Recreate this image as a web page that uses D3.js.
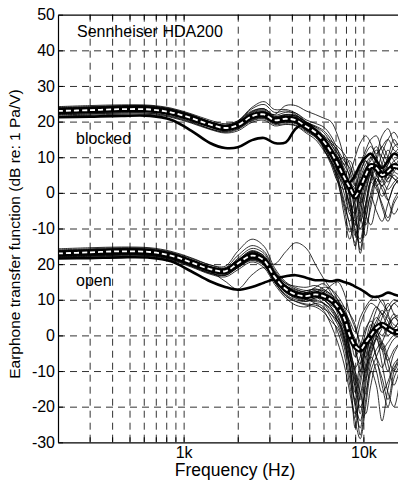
<!DOCTYPE html>
<html>
<head>
<meta charset="utf-8">
<script src="https://cdn.jsdelivr.net/npm/d3@7/dist/d3.min.js"></script>
<style>
  body { margin: 0; background: #fff; }
  svg { display: block; font-family: "Liberation Sans", Arial, sans-serif; }
</style>
</head>
<body>
<div id="chart"></div>
<script>
// frequency points shared by all curves (Hz)
const freqs = [200, 300, 450, 650, 850, 1100, 1400, 1700, 2000, 2400, 2800, 3200, 3700, 4200, 4800,
  5400, 6000, 6600, 7200, 7800, 8400, 9000, 9600, 10300, 11000, 11800, 12700, 13700, 14800, 16000];

// stacked y axis: blocked panel sits 40 dB above the open panel
const yTicks = [-30, -20, -10, 0, 10, 20, 30, 40, 50, 60, 70, 80, 90];
const yTickLabels = ['-30', '-20', '-10', '0', '10', '20', '-10', '0', '10', '20', '30', '40', '50'];
const blockedOffset = 40;

const xGridFreqs = [300, 400, 500, 600, 700, 800, 900, 1000, 2000, 3000, 4000, 5000, 6000, 7000, 8000, 9000, 10000];
const xLabelFreqs = [1000, 10000];
const xLabelText = ['1k', '10k'];

const blockedMean = [23.0, 23.2, 23.5, 23.4, 22.6, 21.0, 19.2, 18.2, 19.0, 21.5, 22.0, 20.4, 20.8, 20.4, 18.6,
  17.0, 14.5, 11.5, 8.0, 4.5, 1.5, -1.0, 1.5, 5.0, 7.5, 7.0, 5.0, 6.0, 7.5, 7.0];
const blockedRef = [21.2, 21.4, 21.6, 21.6, 20.5, 17.5, 14.0, 12.6, 12.8, 14.8, 15.4, 14.0, 14.2, 18.0, 19.5,
  17.5, 14.0, 11.0, 7.0, 4.0, 3.0, 5.0, 8.0, 10.0, 11.0, 9.0, 7.0, 9.0, 11.0, 10.0];
const blockedEars = [
  [23.9, 24.1, 24.4, 24.4, 23.5, 21.9, 20.0, 19.0, 19.8, 22.6, 23.3, 21.4, 22.0, 21.8, 19.8, 18.0, 15.5, 12.0, 5.0, -3.0, -8.0, 0.0, 7.0, 11.0, 13.0, 10.0, 6.0, 8.0, 11.0, 9.0],
  [22.0, 22.2, 22.5, 22.4, 21.6, 20.0, 18.0, 17.2, 18.0, 20.4, 21.0, 19.5, 19.8, 19.4, 17.5, 16.0, 14.0, 12.0, 9.5, 6.0, -2.0, -12.0, -6.0, 2.0, 6.0, 3.0, -1.0, 2.0, 5.0, 3.0],
  [23.5, 23.7, 24.0, 24.0, 23.2, 21.6, 19.8, 18.8, 20.0, 23.6, 24.8, 22.6, 23.0, 22.0, 19.5, 17.5, 12.5, 8.0, 3.0, 1.0, 5.0, 10.0, 14.0, 16.0, 14.0, 11.0, 13.0, 15.0, 12.0, 11.0],
  [22.6, 22.8, 23.1, 23.0, 22.1, 20.4, 18.6, 17.6, 18.4, 21.0, 21.6, 19.8, 20.5, 20.8, 19.5, 18.5, 17.0, 14.0, 10.0, 7.0, 2.0, -6.0, -16.0, -4.0, 4.0, 9.0, 7.0, 3.0, 6.0, 8.0],
  [24.2, 24.5, 24.7, 24.6, 23.8, 22.2, 20.4, 19.4, 20.2, 23.0, 23.6, 21.8, 22.6, 22.4, 20.5, 19.5, 18.5, 16.0, 12.0, 6.0, -1.0, -9.0, -2.0, 6.0, 10.0, 13.0, 8.0, 4.0, 7.0, 10.0],
  [21.6, 21.8, 22.1, 22.0, 21.2, 19.6, 17.8, 16.8, 17.4, 19.8, 20.4, 18.8, 19.2, 18.8, 16.8, 15.0, 12.0, 9.0, 6.0, 2.0, -4.0, -10.0, -13.0, -3.0, 3.0, 1.0, -3.0, -7.0, -2.0, 1.0],
  [23.0, 23.3, 23.6, 23.6, 22.8, 21.2, 19.4, 18.4, 19.4, 22.4, 23.0, 21.2, 21.6, 21.0, 19.0, 17.8, 15.0, 12.5, 9.0, 3.0, -5.0, -2.0, 4.0, 8.0, 10.0, 6.0, 2.0, 4.0, 8.0, 6.0],
  [22.4, 22.6, 22.9, 22.9, 22.0, 20.4, 18.8, 18.0, 18.6, 20.8, 21.2, 19.6, 20.0, 20.2, 18.5, 16.5, 13.0, 10.0, 7.0, 4.0, 2.0, -4.0, -17.0, -8.0, 0.0, 4.0, 2.0, 5.0, 4.0, 3.0],
  [23.6, 23.9, 24.2, 24.1, 23.3, 21.7, 19.7, 18.6, 19.6, 22.0, 22.6, 22.0, 24.5, 24.5, 23.0, 22.0, 21.0, 20.0, 16.0, 10.0, 4.0, -1.0, 3.0, 7.0, 9.0, 12.0, 10.0, 7.0, 9.0, 10.0],
  [22.8, 23.0, 23.3, 23.2, 22.3, 20.6, 18.7, 17.7, 18.6, 21.4, 22.2, 20.4, 20.9, 20.4, 18.2, 16.4, 13.5, 10.5, 7.0, 5.0, 3.0, 1.0, -6.0, -12.0, -2.0, 4.0, 1.0, -2.0, 2.0, 4.0],
  [24.0, 24.2, 24.5, 24.4, 23.6, 22.0, 20.0, 19.0, 20.2, 24.0, 25.6, 23.4, 23.4, 22.4, 20.0, 18.5, 16.0, 13.5, 11.0, 8.0, 5.0, 2.0, 6.0, 9.0, 5.0, 2.0, 4.0, 8.0, 13.0, 14.0],
  [21.9, 22.1, 22.4, 22.3, 21.4, 19.8, 18.0, 17.0, 17.8, 20.2, 20.8, 19.2, 19.4, 19.0, 17.2, 15.6, 12.5, 8.5, 4.0, -2.0, -9.0, -14.0, -4.0, 3.0, 5.0, 2.0, -4.0, -8.0, -3.0, 0.0],
  [23.2, 23.4, 23.7, 23.7, 22.9, 21.3, 19.3, 18.3, 19.2, 21.8, 22.4, 20.8, 21.2, 20.8, 18.8, 17.2, 14.0, 11.0, 9.0, 10.0, 6.0, 2.0, -3.0, 1.0, 6.0, 9.0, 13.0, 10.0, 6.0, 5.0],
  [22.9, 23.1, 23.4, 23.3, 22.5, 20.9, 19.1, 18.1, 18.8, 21.2, 21.8, 20.1, 20.6, 20.0, 17.8, 16.0, 13.0, 9.0, 3.0, -4.0, -11.0, -6.0, 0.0, 4.0, 8.0, 5.0, 3.0, 6.0, 4.0, 2.0],
  [23.4, 23.6, 23.8, 23.8, 23.0, 21.4, 19.4, 18.4, 19.2, 21.6, 22.0, 20.6, 21.0, 20.6, 18.6, 17.0, 15.5, 14.0, 12.0, 9.0, 7.0, 4.0, 8.0, 12.0, 15.0, 16.0, 12.0, 9.0, 11.0, 13.0],
  [22.2, 22.5, 22.8, 22.8, 22.0, 20.6, 18.9, 18.0, 18.9, 21.2, 21.6, 20.0, 20.4, 20.0, 18.4, 17.0, 14.5, 11.0, 6.0, 0.0, -6.0, -8.0, -10.0, -5.0, 3.0, 7.0, 4.0, 1.0, 3.0, 5.0],
  [23.1, 23.3, 23.5, 23.5, 22.7, 21.1, 19.0, 18.0, 18.9, 21.9, 22.8, 20.9, 21.3, 21.2, 19.2, 17.5, 14.8, 10.0, 4.0, -6.0, -13.0, -4.0, 5.0, 9.0, 6.0, 3.0, 8.0, 12.0, 9.0, 7.0],
  [22.5, 22.7, 23.0, 23.0, 22.2, 20.7, 18.9, 18.2, 19.0, 21.0, 21.4, 20.2, 21.4, 21.6, 19.8, 18.8, 17.5, 15.0, 11.0, 8.0, 9.0, 5.0, -2.0, -9.0, -4.0, 5.0, 11.0, 15.0, 17.0, 14.0],
  [23.7, 24.0, 24.3, 24.2, 23.4, 21.8, 19.9, 18.9, 19.9, 22.8, 23.6, 21.5, 21.9, 21.4, 19.2, 17.2, 13.5, 9.0, 5.0, 2.0, -4.0, -15.0, -8.0, 0.0, 6.0, 10.0, 16.0, 18.0, 14.0, 12.0],
  [22.3, 22.5, 22.8, 22.7, 21.9, 20.3, 18.4, 17.4, 18.2, 20.6, 21.2, 19.6, 19.9, 19.6, 17.6, 15.8, 13.2, 11.0, 8.5, 3.0, -3.0, -6.0, 0.0, -6.0, -9.0, -3.0, 2.0, -2.0, -6.0, -3.0],
  [23.3, 23.5, 23.8, 23.8, 23.0, 21.5, 19.5, 18.5, 19.3, 22.0, 22.6, 21.0, 21.8, 21.6, 19.9, 18.0, 16.0, 14.5, 13.0, 11.0, 8.0, 3.0, -8.0, -3.0, 4.0, 8.0, 6.0, 10.0, 15.0, 12.0],
  [22.7, 22.9, 23.2, 23.2, 22.4, 20.8, 18.8, 17.8, 18.8, 21.6, 22.4, 20.6, 20.8, 20.2, 18.0, 16.6, 14.2, 12.0, 10.0, 6.0, 0.0, -11.0, -14.0, -7.0, -1.0, -5.0, -8.0, -3.0, 2.0, 4.0]
];

const openMean = [23.0, 23.3, 23.6, 23.4, 22.4, 20.5, 18.6, 18.0, 20.2, 22.4, 21.0, 16.5, 13.0, 11.5, 11.0,
  11.5, 11.0, 10.0, 8.0, 5.0, 0.0, -3.0, -4.0, -2.0, 0.0, 2.0, 3.0, 2.0, 1.0, 1.0];
const openRef = [21.6, 21.7, 21.9, 21.8, 20.8, 18.0, 15.2, 13.6, 12.8, 13.6, 14.8, 15.8, 16.6, 16.9, 16.2,
  15.5, 15.5, 15.2, 15.5, 15.0, 14.5, 13.7, 13.0, 12.0, 11.0, 10.8, 11.2, 12.0, 11.5, 11.0];
const openEars = [
  [23.8, 24.1, 24.4, 24.2, 23.2, 21.3, 19.4, 18.8, 21.2, 23.6, 22.0, 17.0, 13.5, 12.0, 12.5, 13.0, 12.0, 10.0, 6.0, 0.0, -8.0, -18.0, -12.0, -4.0, 2.0, 5.0, 3.0, 0.0, 2.0, 4.0],
  [22.1, 22.4, 22.7, 22.5, 21.5, 19.6, 17.6, 17.0, 19.0, 21.0, 19.6, 15.0, 11.5, 10.0, 9.5, 10.5, 10.0, 8.0, 5.0, 2.0, -4.0, -12.0, -22.0, -10.0, -3.0, 0.0, -4.0, -10.0, -5.0, -2.0],
  [23.4, 23.7, 24.0, 23.8, 22.8, 21.0, 19.2, 18.6, 21.6, 24.4, 23.0, 18.0, 14.0, 12.5, 11.5, 11.0, 9.0, 6.0, 3.0, -2.0, -10.0, -26.0, -14.0, -6.0, 0.0, 3.0, 6.0, 4.0, 1.0, 3.0],
  [22.6, 22.9, 23.2, 23.0, 22.0, 20.2, 18.2, 17.4, 19.4, 21.6, 20.4, 16.0, 12.5, 11.0, 10.5, 12.0, 13.5, 13.0, 11.0, 8.0, 3.0, -4.0, -8.0, -3.0, 1.0, 4.0, 7.0, 5.0, 3.0, 2.0],
  [24.3, 24.6, 24.8, 24.6, 23.6, 21.8, 19.8, 19.0, 22.4, 25.2, 23.6, 18.4, 14.6, 13.0, 12.0, 11.5, 10.0, 8.5, 7.0, 4.0, -3.0, -9.0, -6.0, 1.0, 5.0, 8.0, 6.0, 3.0, 5.0, 6.0],
  [21.7, 22.0, 22.3, 22.1, 21.1, 19.2, 17.2, 16.4, 18.4, 20.6, 19.0, 14.4, 10.5, 8.5, 8.0, 9.0, 8.0, 5.0, 1.0, -5.0, -14.0, -22.0, -17.0, -9.0, -6.0, -10.0, -16.0, -13.0, -8.0, -6.0],
  [23.0, 23.3, 23.6, 23.4, 22.5, 20.6, 18.6, 18.0, 20.4, 22.8, 21.6, 17.4, 14.0, 12.8, 12.0, 12.5, 11.5, 10.5, 9.0, 6.0, 1.0, -6.0, -3.0, 2.0, 4.0, 2.0, 0.0, 3.0, 6.0, 4.0],
  [22.4, 22.6, 22.9, 22.8, 21.8, 20.0, 18.0, 15.2, 13.0, 17.0, 19.0, 16.5, 14.0, 12.0, 10.0, 9.5, 9.0, 7.0, 4.0, 0.0, -6.0, -15.0, -28.0, -18.0, -8.0, -4.0, -2.0, -6.0, -10.0, -6.0],
  [23.6, 23.9, 24.2, 24.0, 23.0, 21.1, 19.1, 18.6, 21.0, 23.0, 21.0, 20.0, 23.5, 26.0, 24.5, 20.0, 16.0, 13.0, 10.0, 6.0, 2.0, -2.0, 3.0, 7.0, 9.0, 8.0, 6.0, 8.0, 10.0, 9.0],
  [22.8, 23.1, 23.4, 23.2, 22.2, 20.4, 18.4, 17.8, 19.8, 22.0, 20.4, 15.6, 12.0, 10.6, 10.0, 10.5, 12.0, 14.0, 15.0, 12.0, 6.0, 2.0, -2.0, -6.0, -3.0, 1.0, -3.0, -7.0, -4.0, -2.0],
  [24.0, 24.3, 24.6, 24.4, 23.4, 21.6, 19.8, 19.4, 23.6, 27.0, 25.0, 19.0, 15.0, 13.4, 12.6, 13.0, 12.5, 11.0, 8.0, 3.0, -4.0, -10.0, -18.0, -8.0, -1.0, -6.0, -14.0, -20.0, -12.0, -8.0],
  [21.9, 22.2, 22.5, 22.3, 21.3, 19.4, 17.4, 16.8, 19.0, 21.2, 19.8, 15.2, 11.0, 9.5, 8.5, 8.0, 6.5, 4.0, 2.0, -3.0, -12.0, -19.0, -24.0, -14.0, -4.0, -1.0, -4.0, -2.0, 0.0, -1.0],
  [23.2, 23.5, 23.8, 23.6, 22.6, 20.8, 18.8, 18.2, 20.6, 23.2, 21.8, 17.0, 13.0, 11.8, 11.0, 11.5, 10.5, 9.5, 7.0, 5.0, 2.0, -1.0, -5.0, -12.0, -6.0, 0.0, 5.0, 9.0, 6.0, 3.0],
  [22.9, 23.2, 23.5, 23.3, 22.3, 20.4, 18.4, 17.6, 19.6, 21.6, 20.0, 15.4, 12.4, 11.4, 11.8, 12.5, 11.0, 9.0, 7.0, 2.0, -5.0, -13.0, -20.0, -16.0, -10.0, -14.0, -24.0, -15.0, -9.0, -7.0],
  [23.4, 23.7, 24.0, 23.8, 22.8, 20.9, 18.9, 18.3, 20.6, 22.6, 21.2, 17.8, 14.6, 13.8, 13.5, 14.0, 13.0, 11.5, 10.0, 7.0, 4.0, 1.0, 5.0, 8.0, 10.0, 11.0, 9.0, 7.0, 9.0, 10.0],
  [22.2, 22.5, 22.8, 22.6, 21.6, 19.8, 17.9, 17.3, 19.2, 21.4, 20.2, 15.8, 12.2, 10.4, 9.6, 10.0, 9.0, 7.5, 4.0, -1.0, -8.0, -16.0, -10.0, -4.0, -2.0, -6.0, -9.0, -4.0, -1.0, 0.0],
  [23.3, 23.6, 23.9, 23.7, 22.7, 20.8, 18.7, 18.1, 20.8, 23.4, 22.4, 17.2, 13.2, 11.6, 12.0, 13.5, 14.5, 12.0, 8.0, 4.0, -5.0, -14.0, -8.0, -2.0, 3.0, 0.0, -8.0, -16.0, -20.0, -12.0],
  [22.5, 22.8, 23.1, 22.9, 21.9, 20.0, 18.2, 17.6, 19.6, 21.8, 20.8, 16.2, 12.6, 11.0, 10.2, 9.0, 7.0, 3.0, -2.0, -8.0, -16.0, -24.0, -29.0, -20.0, -10.0, -6.0, -2.0, 2.0, 5.0, 3.0],
  [23.7, 24.0, 24.3, 24.1, 23.1, 21.2, 19.2, 18.5, 21.0, 23.8, 22.2, 17.6, 13.8, 12.4, 11.5, 12.0, 12.8, 11.5, 9.5, 7.0, 3.0, -3.0, -10.0, -4.0, 2.0, 7.0, 10.0, 6.0, 2.0, 5.0],
  [22.0, 22.3, 22.6, 22.4, 21.4, 19.5, 17.5, 16.9, 19.0, 21.4, 20.0, 15.0, 11.2, 9.6, 8.8, 8.5, 7.5, 6.0, 4.0, 1.0, -6.0, -10.0, -16.0, -22.0, -14.0, -8.0, -12.0, -18.0, -10.0, -5.0],
  [23.5, 23.8, 24.1, 23.9, 22.9, 21.0, 19.0, 18.4, 20.9, 23.4, 21.6, 16.8, 12.8, 11.6, 11.2, 12.2, 12.0, 10.8, 9.0, 8.0, 6.0, 3.0, -4.0, -10.0, -5.0, -1.0, 2.0, 6.0, 9.0, 7.0],
  [22.7, 23.0, 23.3, 23.1, 22.1, 20.3, 18.3, 17.7, 19.8, 22.2, 20.8, 16.0, 12.6, 11.2, 10.8, 11.0, 10.0, 8.0, 5.0, -1.0, -9.0, -20.0, -26.0, -12.0, -2.0, 1.0, -2.0, -8.0, -14.0, -9.0]
];

const width = 398, height = 482;
const margin = {top: 14.7, left: 58, bottom: 39.7};
// plot continues past the right edge of the picture (to 20 kHz)
const plotRight = 417.5;
const plotW = plotRight - margin.left;
const plotH = height - margin.top - margin.bottom;

const svg = d3.select('#chart').append('svg')
  .attr('width', width)
  .attr('height', height);

const x = d3.scaleLog()
  .domain([200, 20000])
  .range([0, plotW]);

const y = d3.scaleLinear()
  .domain([-30, 90])
  .range([plotH, 0]);

const g = svg.append('g')
  .attr('transform', 'translate(' + margin.left + ',' + margin.top + ')');

g.append('clipPath').attr('id', 'plotclip')
  .append('rect').attr('width', plotW).attr('height', plotH);

// dashed grid
g.append('g')
  .attr('class', 'grid')
  .call(d3.axisBottom(x).tickValues(xGridFreqs).tickSize(plotH).tickFormat(''))
  .call(s => s.select('.domain').remove());

g.append('g')
  .attr('class', 'grid')
  .call(d3.axisRight(y).tickValues(yTicks.slice(1, -1)).tickSize(plotW).tickFormat(''))
  .call(s => s.select('.domain').remove());

g.selectAll('.grid line')
  .attr('stroke', '#333')
  .attr('stroke-width', 1)
  .attr('stroke-dasharray', '7,5');

const line = d3.line()
  .x((d, i) => x(freqs[i]))
  .curve(d3.curveCatmullRom.alpha(0.5));

const curves = g.append('g').attr('clip-path', 'url(#plotclip)');

function drawPanel(ears, ref, mean, offset) {
  const ln = line.y(d => y(d + offset));
  curves.selectAll(null)
    .data(ears)
    .enter().append('path')
      .attr('d', d => ln(d))
      .attr('fill', 'none')
      .attr('stroke', '#000')
      .attr('stroke-width', 0.8);
  curves.append('path')
    .attr('d', ln(ref))
    .attr('fill', 'none')
    .attr('stroke', '#000')
    .attr('stroke-width', 2.6);
  curves.append('path')
    .attr('d', ln(mean))
    .attr('fill', 'none')
    .attr('stroke', '#000')
    .attr('stroke-width', 6);
  curves.append('path')
    .attr('d', ln(mean))
    .attr('fill', 'none')
    .attr('stroke', '#fff')
    .attr('stroke-width', 1.8)
    .attr('stroke-dasharray', '5,3');
}

drawPanel(openEars, openRef, openMean, 0);
drawPanel(blockedEars, blockedRef, blockedMean, blockedOffset);

// axes with inward ticks
g.append('g')
  .attr('class', 'axis')
  .attr('transform', 'translate(0,' + plotH + ')')
  .call(d3.axisBottom(x).tickValues(xGridFreqs).tickSize(-5).tickSizeOuter(0).tickPadding(4.5)
    .tickFormat(d => { const k = xLabelFreqs.indexOf(d); return k < 0 ? '' : xLabelText[k]; }));

g.append('g')
  .attr('class', 'axis')
  .call(d3.axisTop(x).tickValues(xGridFreqs).tickSize(-5).tickSizeOuter(0).tickFormat(''));

g.append('g')
  .attr('class', 'axis')
  .call(d3.axisLeft(y).tickValues(yTicks).tickSize(-5).tickSizeOuter(0).tickPadding(3)
    .tickFormat((d, i) => yTickLabels[i]));

g.selectAll('.axis .domain').attr('stroke', '#000').attr('stroke-width', 1.2);
g.selectAll('.axis line').attr('stroke', '#000');
g.selectAll('.axis text')
  .attr('fill', '#000')
  .style('font-size', '16px');

// panel labels
g.append('text')
  .attr('x', 77 - margin.left).attr('y', 37.5 - margin.top)
  .style('font-size', '16px')
  .text('Sennheiser HDA200');

g.append('text')
  .attr('x', 76 - margin.left).attr('y', 144 - margin.top)
  .style('font-size', '16px')
  .text('blocked');

g.append('text')
  .attr('x', 76 - margin.left).attr('y', 286.5 - margin.top)
  .style('font-size', '16px')
  .text('open');

// axis titles
svg.append('text')
  .attr('x', 235)
  .attr('y', 476)
  .attr('text-anchor', 'middle')
  .style('font-size', '17.5px')
  .text('Frequency (Hz)');

svg.append('text')
  .attr('transform', 'translate(20,234) rotate(-90)')
  .attr('text-anchor', 'middle')
  .style('font-size', '15.5px')
  .text('Earphone transfer function (dB re: 1 Pa/V)');
</script>
</body>
</html>
